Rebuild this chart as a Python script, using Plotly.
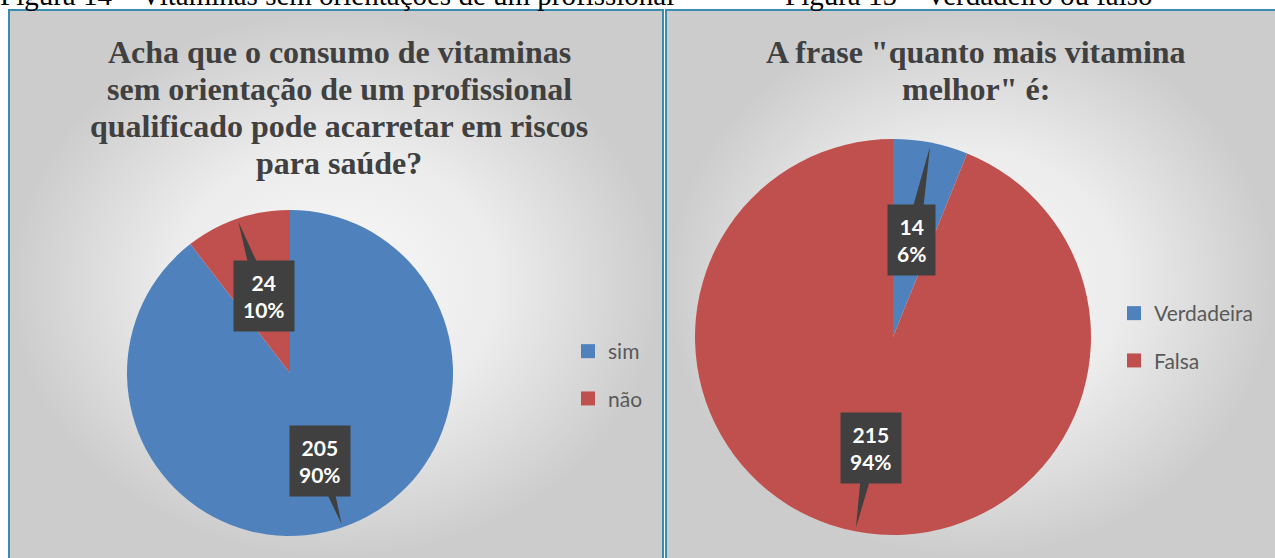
import math

import plotly.graph_objects as go


W, H = 1275, 558

CAPTION_1 = "Figura 14 – Vitaminas sem orientações de um profissional"
CAPTION_2 = "Figura 15 – Verdadeiro ou falso"

TITLE_1 = [
    "Acha que o consumo de vitaminas",
    "sem orientação de um profissional",
    "qualificado pode acarretar em riscos",
    "para saúde?",
]
TITLE_2 = ["A frase \"quanto mais vitamina", "melhor\" é:"]

LABELS_1 = ["sim", "não"]
VALUES_1 = [205, 24]

LABELS_2 = ["Verdadeira", "Falsa"]
VALUES_2 = [14, 215]

SLICE_COLORS = ["#4f81bd", "#c0504d"]
CALLOUT_COLOR = "#404040"
BORDER_COLOR = "#3a8db0"
TEXT_GRAY = "#404040"


def px(x):
    return x / W


def py(y):
    return 1 - y / H


def add_pie(fig, labels, values, center, radius, legend, label_radius):
    cx, cy = center
    fig.add_trace(
        go.Pie(
            labels=labels,
            values=values,
            sort=False,
            direction="clockwise",
            rotation=0,
            textinfo="none",
            marker={"colors": SLICE_COLORS, "line": {"width": 0}},
            domain={
                "x": [px(cx - radius), px(cx + radius)],
                "y": [py(cy + radius), py(cy - radius)],
            },
            showlegend=False,
            hovertemplate="%{label}: %{value} (%{percent})<extra></extra>",
        )
    )
    # legend entries, one group each so the gap between them can be set
    for label, color in zip(labels, SLICE_COLORS):
        fig.add_trace(
            go.Scatter(
                x=[None],
                y=[None],
                mode="markers",
                name=label,
                legendgroup=f"{legend}-{label}",
                legend=legend,
                marker={"symbol": "square", "size": 14, "color": color},
            )
        )
    # callouts: box at mid-angle, wedge pointing at the slice edge
    total = sum(values)
    start = 0
    for value, k in zip(values, label_radius):
        mid = (start + value / 2) / total
        start += value
        theta = 2 * math.pi * mid
        s, c = math.sin(theta), math.cos(theta)
        tip_x, tip_y = cx + 0.98 * radius * s, cy - 0.98 * radius * c
        box_x, box_y = cx + k * radius * s, cy - k * radius * c
        half = 8
        fig.add_shape(
            type="path",
            xref="x",
            yref="y",
            path=(
                f"M{box_x + half * c},{box_y + half * s} "
                f"L{tip_x},{tip_y} "
                f"L{box_x - half * c},{box_y - half * s} Z"
            ),
            fillcolor=CALLOUT_COLOR,
            line={"width": 0},
        )
        pct = round(100 * value / total)
        fig.add_annotation(
            x=px(box_x),
            y=py(box_y),
            xref="paper",
            yref="paper",
            xanchor="center",
            yanchor="middle",
            text=f"<b>{value}<br>{pct}%</b>",
            font={"family": "Lato", "size": 21, "color": "white"},
            bgcolor=CALLOUT_COLOR,
            borderpad=9,
            showarrow=False,
        )


def add_title(fig, lines, x, y_first, step=37):
    for i, line in enumerate(lines):
        fig.add_annotation(
            x=px(x), y=py(y_first + i * step), xref="paper", yref="paper",
            xanchor="center", yanchor="middle", showarrow=False,
            text=f"<b>{line}</b>",
            font={"family": "Liberation Serif", "size": 32, "color": TEXT_GRAY},
        )


fig = go.Figure()

# panel backgrounds with radial gradient
for x0, x1 in ((10, 662), (667, W)):
    fig.add_trace(
        go.Scatter(
            x=[x0, x1, x1, x0, x0],
            y=[11, 11, H, H, 11],
            mode="lines",
            fill="toself",
            fillgradient={
                "type": "radial",
                "colorscale": [[0, "#f8f8f8"], [0.5, "#ececec"], [1, "#cccccc"]],
            },
            line={"width": 0},
            hoverinfo="skip",
            showlegend=False,
        )
    )

add_pie(fig, LABELS_1, VALUES_1, (290, 373), 163, "legend", [0.57, 0.5])
add_pie(fig, LABELS_2, VALUES_2, (893, 337), 198, "legend2", [0.5, 0.57])

for x0, x1 in ((9, 663), (666, W + 5)):
    fig.add_shape(
        type="rect",
        xref="paper",
        yref="paper",
        x0=px(x0),
        x1=px(x1),
        y0=py(H + 5),
        y1=py(10),
        line={"color": BORDER_COLOR, "width": 2},
    )

add_title(fig, TITLE_1, 339, 52)
add_title(fig, TITLE_2, 976, 52)

for text, x in ((CAPTION_1, -2), (CAPTION_2, 783)):
    fig.add_annotation(
        x=px(x), y=py(-5), xref="paper", yref="paper", showarrow=False,
        xanchor="left", yanchor="middle", text=text,
        font={"family": "Liberation Serif", "size": 29, "color": "black"},
    )

legend_style = {
    "xanchor": "left",
    "yanchor": "middle",
    "bgcolor": "rgba(0,0,0,0)",
    "font": {"family": "Lato", "size": 21, "color": "#595959"},
    "itemwidth": 30,
    "tracegroupgap": 17,
}
fig.update_layout(
    width=W,
    height=H,
    margin={"l": 0, "r": 0, "t": 0, "b": 0},
    paper_bgcolor="white",
    plot_bgcolor="white",
    xaxis={"range": [0, W], "visible": False, "fixedrange": True},
    yaxis={"range": [H, 0], "visible": False, "fixedrange": True},
    legend={**legend_style, "x": px(568), "y": py(375)},
    legend2={**legend_style, "x": px(1114), "y": py(337)},
)

fig.write_html(
    "out.html",
    config={"displayModeBar": False},
    post_script="document.body.style.margin='0';",
)
